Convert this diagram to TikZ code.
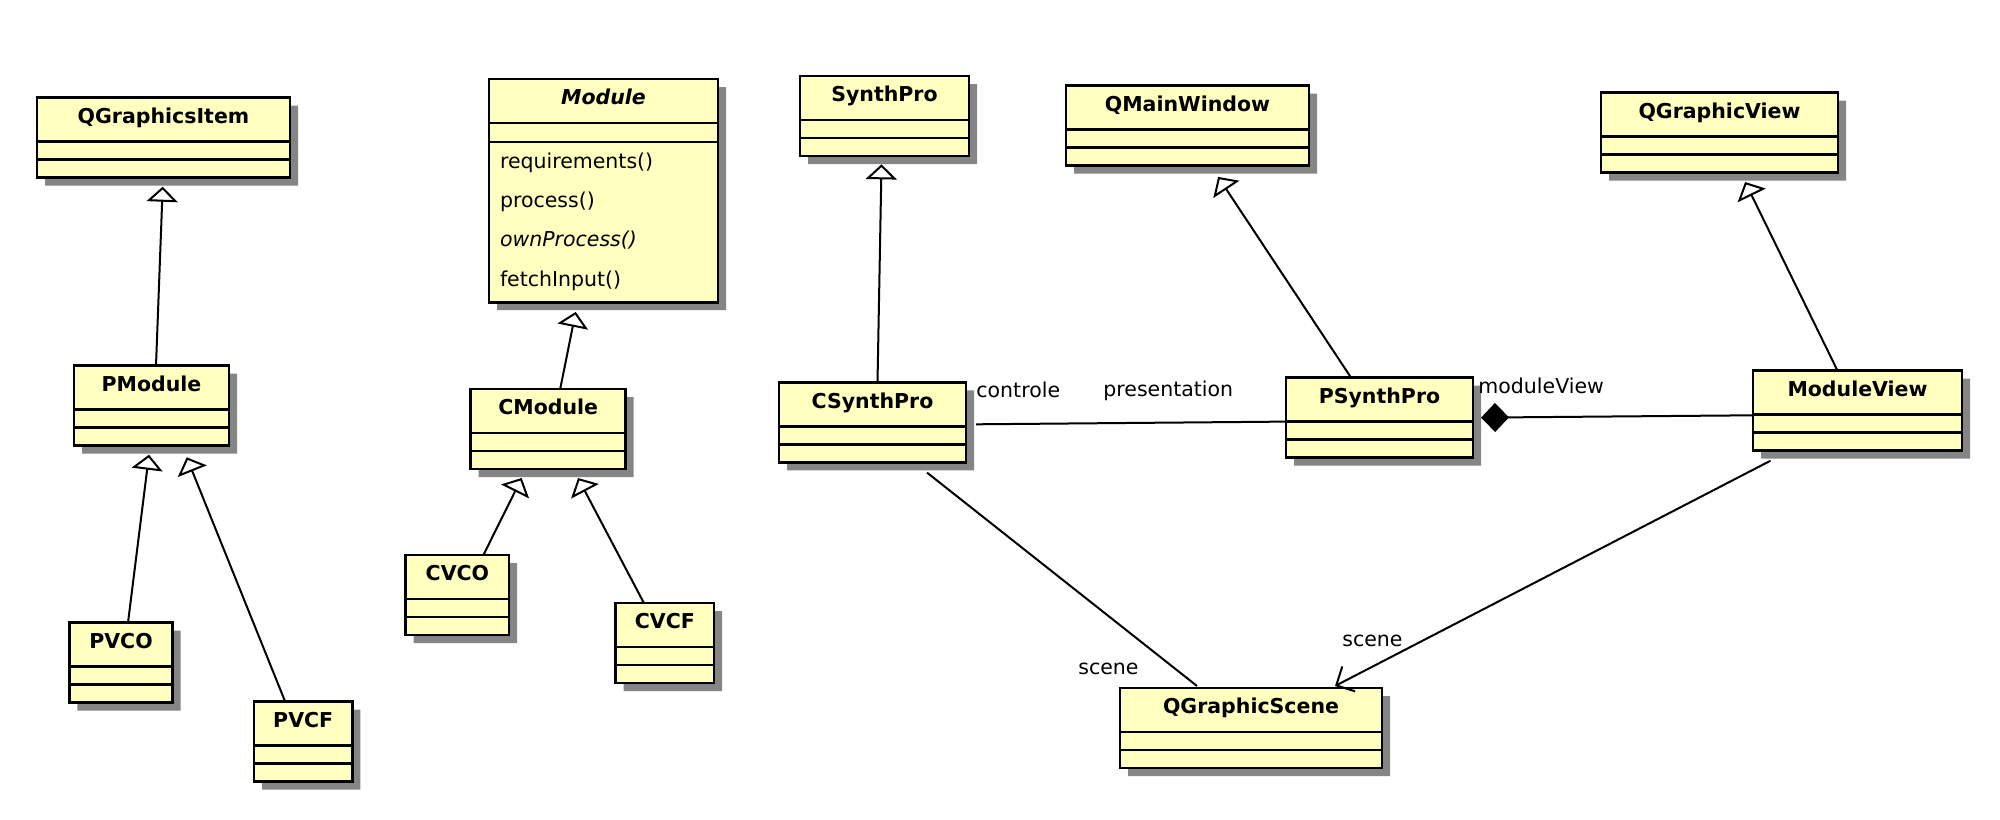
\documentclass[tikz,border=0pt]{standalone}
\usepackage{fontspec}
\setmainfont{DejaVu Sans}
\usetikzlibrary{shapes.multipart,shadows,arrows.meta}

\definecolor{classfill}{RGB}{255,255,192}
\newcommand{\classname}[1]{\rule[-8.5pt]{0pt}{20.7pt}\textbf{#1}\nodepart{second}\rule{0pt}{7.7pt}\nodepart{third}\rule{0pt}{7.7pt}}
\newcommand{\oper}[1]{\rule[-7.3pt]{0pt}{19.7pt}#1}

\tikzset{
	umlclass/.style={rectangle split, rectangle split parts=3, draw, line width=1.3pt,
		fill=classfill, inner xsep=5.5pt, inner ysep=0pt, outer sep=0pt, anchor=north west,
		font=\fontsize{10.25}{12}\selectfont,
		drop shadow={shadow xshift=4pt, shadow yshift=-4pt, fill=black!48, opacity=1}},
	inherit/.style={-{Triangle[open, length=7.5pt, width=15.5pt]}, line width=1pt},
	assoc/.style={line width=1pt},
	role/.style={font=\fontsize{10.25}{12}\selectfont, inner sep=0pt, anchor=base west},
}

\begin{document}
\begin{tikzpicture}[x=0.5pt, y=-0.5pt]
	    \useasboundingbox (0,0) rectangle (2000,819);
	    
	    \node[umlclass, minimum width=126.5pt] at (37,97.7) (QGraphicsItem) {\classname{QGraphicsItem}};
	    \node[umlclass, minimum width=77.5pt] at (74,365.7) (PModule) {\classname{PModule}};
	    \node[umlclass, minimum width=51.7pt] at (69.3,622.7) (PVCO) {\classname{PVCO}};
	    \node[umlclass, minimum width=49.2pt] at (254,701.7) (PVCF) {\classname{PVCF}};
	    
	    \node[umlclass, minimum width=114.5pt, rectangle split part align={center,center,left}] at (489,79) (Module)
	        {\rule[-8.5pt]{0pt}{20.7pt}\textbf{\textit{Module}}\nodepart{second}\rule{0pt}{8.2pt}\nodepart{third}%
	        \begin{tabular}{@{}l@{}}\oper{requirements()}\\ \oper{process()}\\ \oper{\textit{ownProcess()}}\\ \oper{fetchInput()}\end{tabular}};
	    \node[umlclass, minimum width=77.5pt] at (470.7,389) (CModule) {\classname{CModule}};
	    \node[umlclass, minimum width=51.7pt] at (405.7,555) (CVCO) {\classname{CVCO}};
	    \node[umlclass, minimum width=49.2pt] at (615.7,603) (CVCF) {\classname{CVCF}};
	    
	    \node[umlclass, minimum width=84.5pt] at (800,76) (SynthPro) {\classname{SynthPro}};
	    \node[umlclass, minimum width=93.5pt] at (779,382.3) (CSynthPro) {\classname{CSynthPro}};
	    \node[umlclass, minimum width=121.5pt] at (1066,85.7) (QMainWindow) {\classname{QMainWindow}};
	    \node[umlclass, minimum width=93.5pt] at (1286,377.6) (PSynthPro) {\classname{PSynthPro}};
	    \node[umlclass, minimum width=118.5pt] at (1601,92.7) (QGraphicView) {\classname{QGraphicView}};
	    \node[umlclass, minimum width=104.5pt] at (1753,370.7) (ModuleView) {\classname{ModuleView}};
	    \node[umlclass, minimum width=131pt] at (1120,688) (QGraphicScene) {\classname{QGraphicScene}};
	    
	    \draw[inherit] ([xshift=2.25pt]PModule.north) -- ([xshift=-0.4pt,yshift=-4.5pt]QGraphicsItem.south);
	    \draw[inherit] ([xshift=3.5pt]PVCO.north) -- ([xshift=-1.25pt,yshift=-4.5pt]PModule.south);
	    \draw[inherit] ([xshift=-9pt]PVCF.north) -- ([xshift=17.6pt,yshift=-5.8pt]PModule.south);
	    \draw[inherit] ([xshift=6pt]CModule.north) -- ([xshift=-13.9pt,yshift=-4.85pt]Module.south);
	    \draw[inherit] ([xshift=13pt]CVCO.north) -- ([xshift=-13.25pt,yshift=-4.5pt]CModule.south);
	    \draw[inherit] ([xshift=-10.5pt]CVCF.north) -- ([xshift=14.9pt,yshift=-4.5pt]CModule.south);
	    \draw[inherit] ([xshift=2.5pt]CSynthPro.north) -- ([xshift=-1.5pt,yshift=-4.15pt]SynthPro.south);
	    \draw[inherit] ([xshift=-14.25pt]PSynthPro.north) -- ([xshift=15.3pt,yshift=-5.6pt]QMainWindow.south);
	    \draw[inherit] ([xshift=-10pt]ModuleView.north) -- ([xshift=12.8pt,yshift=-4.65pt]QGraphicView.south);
	    
	    \draw[assoc] ([xshift=5pt,yshift=-1pt]CSynthPro.east) -- ([yshift=-2pt]PSynthPro.west);
	    \draw[assoc, -{Diamond[length=14pt, width=14.5pt]}] ([yshift=-2.3pt]ModuleView.west) -- ([xshift=4pt]PSynthPro.east);
	    \draw[assoc] ([xshift=27.25pt,yshift=-5.15pt]CSynthPro.south) -- ([xshift=-27pt,yshift=1pt]QGraphicScene.north);
	    \draw[assoc, -{Straight Barb[length=7pt, width=14pt]}] ([xshift=-43.5pt,yshift=-5pt]ModuleView.south) -- ([xshift=42pt,yshift=1pt]QGraphicScene.north);
	    
	    \node[role] at (976,397.5) (controle) {controle};
	    \node[role] at (1103,396.5) (presentation) {presentation};
	    \node[role] at (1478,393.3) (moduleView) {moduleView};
	    \node[role] at (1078,674.3) (sceneC) {scene};
	    \node[role] at (1342,646) (sceneM) {scene};
	    
	    \end{tikzpicture}
\end{document}
